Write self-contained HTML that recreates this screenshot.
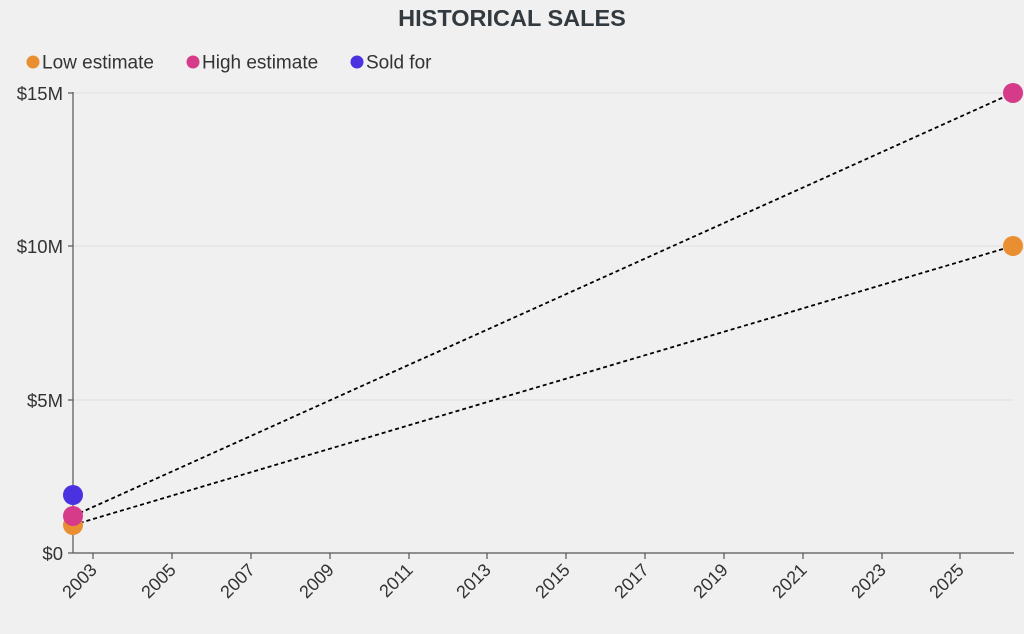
<!DOCTYPE html><html><head><style>body{margin:0;background:#f0f0f0;}svg{display:block;font-family:"Liberation Sans",sans-serif;}</style></head><body>
<svg width="1024" height="634" xmlns="http://www.w3.org/2000/svg">
<rect width="1024" height="634" fill="#f0f0f0"/>
<text x="512" y="26" text-anchor="middle" font-size="23.5" font-weight="bold" fill="#333a3f">HISTORICAL SALES</text>
<g font-size="19" fill="#333">
<circle cx="33" cy="62" r="6.5" fill="#e98f32"/><text x="42" y="68.5">Low estimate</text>
<circle cx="193" cy="62" r="6.5" fill="#d63b8a"/><text x="202" y="68.5">High estimate</text>
<circle cx="357" cy="62" r="6.5" fill="#4a32e0"/><text x="366" y="68.5">Sold for</text>
</g>
<g stroke="#e0e0e0" stroke-width="1">
<line x1="73" y1="93" x2="1014" y2="93"/><line x1="73" y1="246" x2="1014" y2="246"/><line x1="73" y1="400" x2="1014" y2="400"/>
</g>
<g stroke="#555" stroke-width="1.2" fill="none">
<line x1="73" y1="92" x2="73" y2="553"/><line x1="73" y1="553" x2="1014" y2="553"/>
<line x1="68" y1="93" x2="73" y2="93"/><line x1="68" y1="246" x2="73" y2="246"/><line x1="68" y1="400" x2="73" y2="400"/><line x1="68" y1="553" x2="73" y2="553"/>
<line x1="93" y1="553" x2="93" y2="559"/><line x1="172" y1="553" x2="172" y2="559"/><line x1="251" y1="553" x2="251" y2="559"/><line x1="330" y1="553" x2="330" y2="559"/><line x1="409" y1="553" x2="409" y2="559"/><line x1="487" y1="553" x2="487" y2="559"/><line x1="566" y1="553" x2="566" y2="559"/><line x1="645" y1="553" x2="645" y2="559"/><line x1="724" y1="553" x2="724" y2="559"/><line x1="803" y1="553" x2="803" y2="559"/><line x1="882" y1="553" x2="882" y2="559"/><line x1="960" y1="553" x2="960" y2="559"/>
</g>
<g font-size="18.5" fill="#333" text-anchor="end">
<text x="63" y="100">$15M</text><text x="63" y="253">$10M</text><text x="63" y="407">$5M</text><text x="63" y="560">$0</text>
</g>
<g font-size="18" fill="#333" text-anchor="end">
<text transform="translate(98,571) rotate(-45)">2003</text>
<text transform="translate(177,571) rotate(-45)">2005</text>
<text transform="translate(256,571) rotate(-45)">2007</text>
<text transform="translate(335,571) rotate(-45)">2009</text>
<text transform="translate(414,571) rotate(-45)">2011</text>
<text transform="translate(492,571) rotate(-45)">2013</text>
<text transform="translate(571,571) rotate(-45)">2015</text>
<text transform="translate(650,571) rotate(-45)">2017</text>
<text transform="translate(729,571) rotate(-45)">2019</text>
<text transform="translate(808,571) rotate(-45)">2021</text>
<text transform="translate(887,571) rotate(-45)">2023</text>
<text transform="translate(965,571) rotate(-45)">2025</text>
</g>
<g stroke="#000" stroke-width="1.8" stroke-dasharray="4,3">
<line x1="73" y1="525" x2="1013" y2="246"/><line x1="73" y1="516" x2="1013" y2="93"/>
</g>
<circle cx="73" cy="495" r="10" fill="#4a32e0"/>
<circle cx="73" cy="525" r="10" fill="#e98f32"/>
<circle cx="73" cy="516" r="10" fill="#d63b8a"/>
<circle cx="1013" cy="246" r="10" fill="#e98f32"/>
<circle cx="1013" cy="93" r="10" fill="#d63b8a"/>
</svg></body></html>
